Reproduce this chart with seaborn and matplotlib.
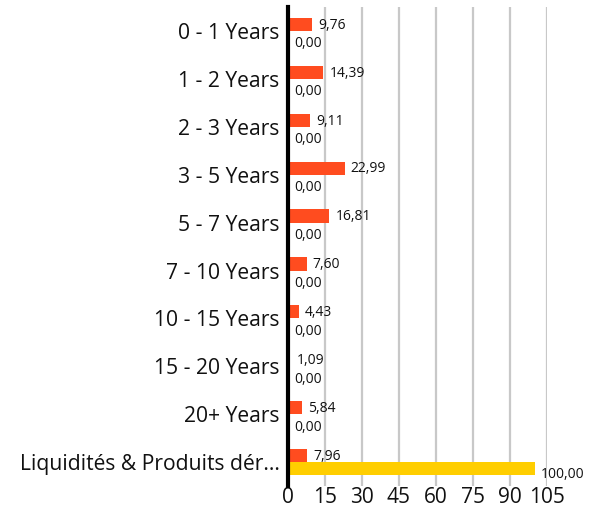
import matplotlib
matplotlib.use("Agg")
import matplotlib.pyplot as plt
import seaborn as sns
import pandas as pd

categories = ["0 - 1 Years", "1 - 2 Years", "2 - 3 Years", "3 - 5 Years",
              "5 - 7 Years", "7 - 10 Years", "10 - 15 Years", "15 - 20 Years",
              "20+ Years", "Liquidités & Produits dér..."]
fund = [9.76, 14.39, 9.11, 22.99, 16.81, 7.60, 4.43, 1.09, 5.84, 7.96]
benchmark = [0.00, 0.00, 0.00, 0.00, 0.00, 0.00, 0.00, 0.00, 0.00, 100.00]
series_names = ["Fonds", "Indice"]
xticks = [0, 15, 30, 45, 60, 75, 90, 105]

df = pd.DataFrame({
    "cat": categories * 2,
    "value": fund + benchmark,
    "series": [series_names[0]] * len(fund) + [series_names[1]] * len(benchmark),
})

sns.set_theme(style="white")
plt.rcParams["font.family"] = ["Open Sans", "DejaVu Sans"]

fig = plt.figure(figsize=(6.02, 5.14), dpi=100)
ax = fig.add_axes([0.478, 0.0545, 0.431, 0.9315])

sns.barplot(data=df, y="cat", x="value", hue="series", orient="h",
            palette=["#FF4C1F", "#FFCE00"], width=0.55, saturation=1,
            linewidth=0, legend=False, ax=ax)

ax.set_xlim(0, 105)
ax.set_xticks(xticks)
ax.set_xticklabels([str(t) for t in xticks], fontsize=15, color="#111111")
ax.tick_params(axis="y", labelsize=15.2, colors="#111111", length=0, pad=6)
ax.tick_params(axis="x", length=0, pad=1)
ax.set_xlabel("")
ax.set_ylabel("")
ax.xaxis.grid(True, color="#c8c8c8", linewidth=1.6)
ax.set_axisbelow(True)
for s in ["top", "right", "bottom"]:
    ax.spines[s].set_visible(False)
ax.spines["left"].set_color("black")
ax.spines["left"].set_linewidth(3)
ax.spines["left"].set_zorder(5)

# value labels
for ci, container in enumerate(ax.containers):
    dy = -0.5 if ci == 0 else -4.5
    for bar in container:
        w = bar.get_width()
        yc = bar.get_y() + bar.get_height() / 2
        ax.annotate(f"{w:.2f}".replace(".", ","), xy=(w, yc),
                    xytext=(4.5, dy), textcoords="offset points",
                    ha="left", va="center", fontsize=10, color="#111111",
                    annotation_clip=False)

fig.savefig("out.png", dpi=100)
